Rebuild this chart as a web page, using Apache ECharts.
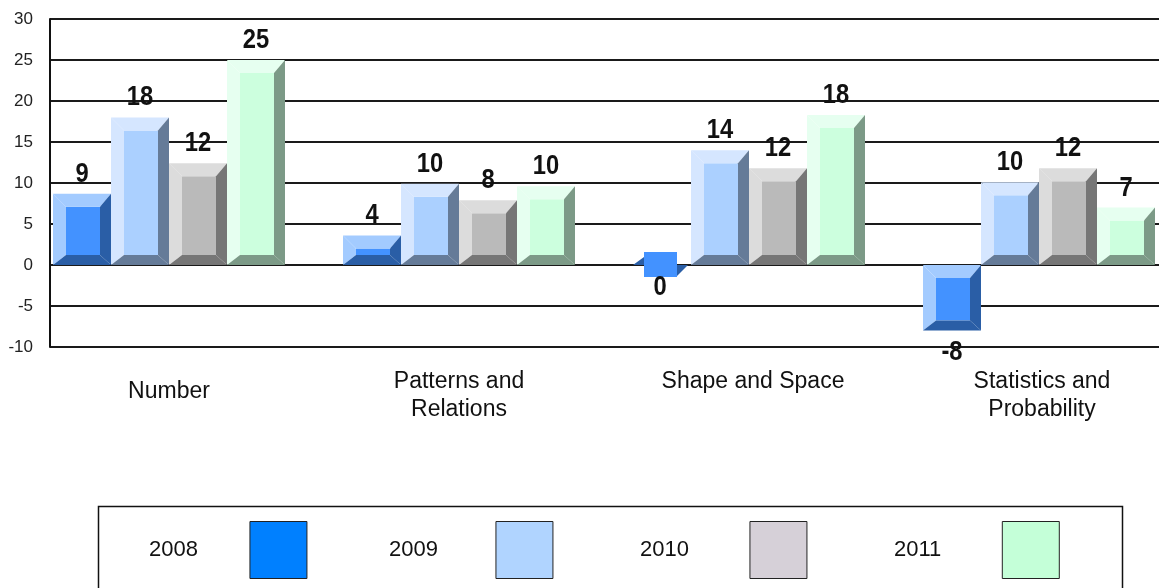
<!DOCTYPE html>
<html>
<head>
<meta charset="utf-8">
<script src="https://cdn.jsdelivr.net/npm/echarts@6/dist/echarts.min.js"></script>
<style>
  html, body { margin: 0; padding: 0; background: #fff; }
  #chart { width: 1159px; height: 588px; }
</style>
</head>
<body>
<div id="chart"></div>
<script>
// ---- data ----
const categories = ['Number', 'Patterns and\nRelations', 'Shape and Space', 'Statistics and\nProbability'];
const seriesNames = ['2008', '2009', '2010', '2011'];
const values2008 = [8.7, 3.6, 0, -8];
const values2009 = [18, 9.9, 14, 10.1];
const values2010 = [12.4, 7.9, 11.8, 11.8];
const values2011 = [25, 9.6, 18.3, 7];
const yTicks = { min: -10, max: 30, interval: 5 };

// ---- styles ----
const palettes = [
  { light: '#a3cbff', face: '#4392ff', dark: '#2a5ea6', legend: '#0080ff' },
  { light: '#d5e6ff', face: '#abd0ff', dark: '#657b98', legend: '#b0d4ff' },
  { light: '#dcdcdc', face: '#bababa', dark: '#767676', legend: '#d6d0d8' },
  { light: '#e6fff0', face: '#ccffde', dark: '#7c9a87', legend: '#c4ffd8' }
];
const allValues = [values2008, values2009, values2010, values2011];
const labelFont = 'bold 27px "Liberation Sans", Arial, sans-serif';

function valueText(label, x, y, vAlign) {
  return {
    type: 'text', x: x, y: y, scaleX: 0.88,
    style: { text: label, x: 0, y: 0, align: 'center', verticalAlign: vAlign, font: labelFont, fill: '#111' }
  };
}

function renderItem(params, api) {
  const s = params.seriesIndex;
  const pal = palettes[s];
  const cat = api.value(0);
  const v = api.value(1);
  const zero = api.coord([cat, 0]);
  const band = api.size([1, 0])[0];
  const bw = band * 0.2;
  const x0 = zero[0] - bw * 2 + s * bw;
  const x1 = x0 + bw;
  const yv = api.coord([cat, v])[1];
  const y0 = zero[1];
  const top = Math.min(yv, y0), bot = Math.max(yv, y0);
  const L = 13, T = 13, R = 11, B = 10;
  const children = [];
  const label = String(Math.round(v));
  if (bot - top < 1) {
    // flat (zero) bar
    children.push({ type: 'rect', shape: { x: x0 + L - 2, y: y0 - 13, width: bw - L - R - 1, height: 25 }, style: { fill: pal.face } });
    children.push({ type: 'polygon', shape: { points: [[x0, y0], [x0 + L - 2, y0 - 8], [x0 + L - 2, y0]] }, style: { fill: pal.dark } });
    children.push({ type: 'polygon', shape: { points: [[x1 - R - 3, y0], [x1 - 3, y0], [x1 - R - 3, y0 + 11]] }, style: { fill: pal.dark } });
    children.push(valueText(label, (x0 + x1) / 2 - 2, y0 + 9, 'top'));
  } else {
    let iT = top + T, iB = bot - B;
    if (iB < iT) { iT = iB = top + (bot - top) * T / (T + B); }
    const xl = x0 + L, xr = x1 - R;
    children.push({ type: 'rect', shape: { x: xl, y: iT, width: xr - xl, height: iB - iT }, style: { fill: pal.face } });
    children.push({ type: 'polygon', shape: { points: [[x0, top], [x1, top], [xr, iT], [xl, iT]] }, style: { fill: pal.light } });
    children.push({ type: 'polygon', shape: { points: [[x0, top], [xl, iT], [xl, iB], [x0, bot]] }, style: { fill: pal.light } });
    children.push({ type: 'polygon', shape: { points: [[x1, top], [x1, bot], [xr, iB], [xr, iT]] }, style: { fill: pal.dark } });
    children.push({ type: 'polygon', shape: { points: [[x0, bot], [x1, bot], [xr, iB], [xl, iB]] }, style: { fill: pal.dark } });
    if (v > 0) {
      children.push(valueText(label, (x0 + x1) / 2, top - 6, 'bottom'));
    } else {
      children.push(valueText(label, (x0 + x1) / 2, bot + 8, 'top'));
    }
  }
  return { type: 'group', children: children };
}

const labelShift = [
  { padding: [10, 0, 0, 0] },
  { padding: [0, 0, 0, 0] },
  { padding: [0, 0, 0, 8] },
  { padding: [0, 0, 0, 6] }
];
const catData = categories.map((c, i) => ({ value: c, textStyle: labelShift[i] }));

const legendLayout = [
  { left: 149, pad: 47 },
  { left: 389, pad: 53 },
  { left: 640, pad: 56 },
  { left: 894, pad: 56 }
];

const chart = echarts.init(document.getElementById('chart'), null, { renderer: 'canvas' });
const option = {
  backgroundColor: '#ffffff',
  animation: false,
  grid: [
    { left: 50, right: 0, top: 19, bottom: 241, containLabel: false },
    { left: 169, width: 870, top: 19, bottom: 241, containLabel: false }
  ],
  xAxis: [
    { type: 'value', gridIndex: 0, show: false, min: 0, max: 1 },
    {
      type: 'category', gridIndex: 1, data: catData, boundaryGap: false,
      axisLine: { show: false }, axisTick: { show: false }, splitLine: { show: false },
      axisLabel: { margin: 21, fontSize: 23, lineHeight: 28, color: '#111', fontFamily: 'Liberation Sans, Arial, sans-serif', interval: 0 }
    }
  ],
  yAxis: [
    {
      type: 'value', gridIndex: 0, min: yTicks.min, max: yTicks.max, interval: yTicks.interval,
      axisLine: { show: true, lineStyle: { color: '#111', width: 2 } },
      axisTick: { show: false },
      splitLine: { show: true, lineStyle: { color: '#1a1a1a', width: 2 } },
      axisLabel: { margin: 17, fontSize: 17, color: '#222', fontFamily: 'Liberation Sans, Arial, sans-serif' }
    },
    { type: 'value', gridIndex: 1, min: yTicks.min, max: yTicks.max, interval: yTicks.interval, show: false }
  ],
  legend: seriesNames.map((n, i) => ({
    data: [{ name: n, itemStyle: { color: palettes[i].legend, borderColor: '#222', borderWidth: 1 } }],
    left: legendLayout[i].left, top: 521, padding: 0,
    align: 'right', icon: 'rect', itemWidth: 57, itemHeight: 57,
    selectedMode: false,
    textStyle: { fontSize: 22, color: '#111', fontFamily: 'Liberation Sans, Arial, sans-serif', padding: [0, legendLayout[i].pad, 0, 0] }
  })),
  graphic: [
    { type: 'rect', left: 96, top: 504, shape: { width: 1024, height: 120 }, style: { fill: 'none', stroke: '#111', lineWidth: 1.5 }, z: 1 }
  ],
  series: seriesNames.map((n, i) => ({
    name: n, type: 'custom', xAxisIndex: 1, yAxisIndex: 1, clip: false,
    itemStyle: { color: palettes[i].legend },
    renderItem: renderItem,
    encode: { x: 0, y: 1 },
    data: allValues[i].map((v, k) => [k, v])
  }))
};
chart.setOption(option);
</script>
</body>
</html>
